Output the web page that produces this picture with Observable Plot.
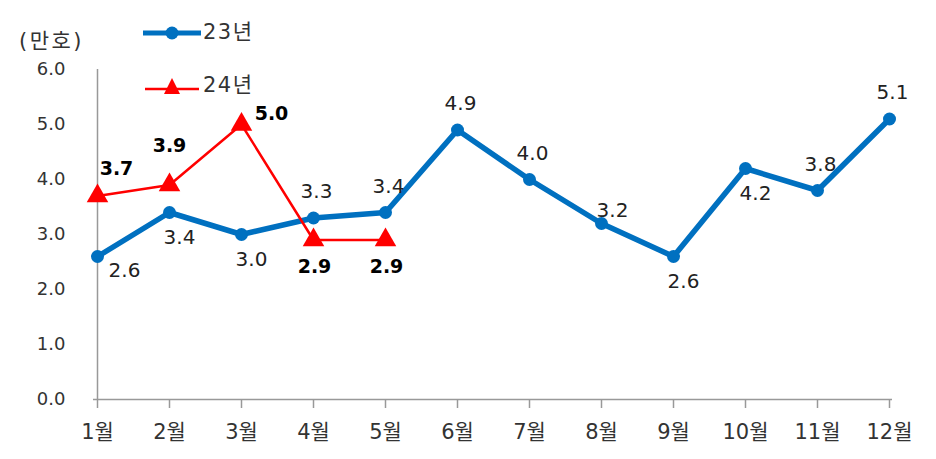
<!DOCTYPE html>
<html><head><meta charset="utf-8">
<script src="https://cdn.jsdelivr.net/npm/d3@7"></script>
<script src="https://cdn.jsdelivr.net/npm/@observablehq/plot@0.6"></script>
<style>
body{margin:0;background:#fff;font-family:"DejaVu Sans","Noto Sans CJK KR",sans-serif;}
#wrap{position:relative;width:936px;height:459px;}
.ov{position:absolute;color:#333;white-space:nowrap;letter-spacing:1.5px;}
</style></head>
<body><div id="wrap"></div>
<script>
const months = ["1월","2월","3월","4월","5월","6월","7월","8월","9월","10월","11월","12월"];
const series23 = [2.6,3.4,3.0,3.3,3.4,4.9,4.0,3.2,2.6,4.2,3.8,5.1];
const series24 = [3.7,3.9,5.0,2.9,2.9];
const yTicks = [0,1,2,3,4,5,6];
const seriesNames = ["23년","24년"];
const unitLabel = "(만호)";
// label placement (which side of point the value label sits)
const place23 = ["belowRight","below","below","above","above","above","above","aboveRight","below","below","above","above"];
const place24 = ["aboveRight","high","right","below","below"];

const blue = "#0070C0", red = "#FF0000";
const rows23 = months.map((m,i)=>({m, v:series23[i], p:place23[i]}));
const rows24 = series24.map((v,i)=>({m:months[i], v, p:place24[i]}));

const off23 = {belowRight:[27,14], below:[10,25], above:[3,-26], aboveRight:[11,-13]};
const off24 = {aboveRight:[19,-27], high:[0,-39], right:[30,-11], below:[1,27]};

const txt = (rows, offs, opts) => Object.entries(offs).map(([k,[dx,dy]]) =>
  Plot.text(rows.filter(r=>r.p===k), {x:"m", y:"v", text:d=>d.v.toFixed(1), dx, dy, ...opts}));

const chart = Plot.plot({
  width: 936, height: 459,
  marginLeft: 93, marginRight: 44, marginTop: 69, marginBottom: 60,
  style: {fontFamily: "'DejaVu Sans','Noto Sans CJK KR',sans-serif", color:"#333", background:"#fff"},
  x: {type:"point", domain: months, padding: 0, inset: 0},
  y: {domain:[0,6], inset: 0},
  marks: [
    Plot.axisY({ticks: yTicks, tickSize:0, tickPadding:28, tickFormat:d3.format(".1f"), fontSize:18, label:null, fill:"#333", style:{letterSpacing:"3px"}}),
    Plot.axisX({tickSize:9, tickPadding:16, fontSize:21, label:null, stroke:"#999", strokeWidth:1.5, fill:"#333", style:{letterSpacing:"2px"}}),
    Plot.ruleY([0], {stroke:"#999", strokeWidth:1.5}),
    Plot.ruleX([months[0]], {y1:0, y2:6, stroke:"#999", strokeWidth:1.5}),
    Plot.line(rows23, {x:"m", y:"v", stroke:blue, strokeWidth:5.5}),
    Plot.dot(rows23, {x:"m", y:"v", fill:blue, r:6.5}),
    Plot.line(rows24, {x:"m", y:"v", stroke:red, strokeWidth:2.5}),
    Plot.dot(rows24, {x:"m", y:"v", fill:red, symbol:"triangle", r:8}),
    ...txt(rows23, off23, {fontSize:20, fill:"#222", style:{letterSpacing:"2px"}}),
    ...txt(rows24, off24, {fontSize:19, fontWeight:"bold", fill:"#000", style:{letterSpacing:"1.5px"}})
  ]
});
const wrap = document.getElementById("wrap");
wrap.appendChild(chart);

function addDiv(html, left, top, size, ls){
  const d = document.createElement("div");
  d.className="ov"; d.innerHTML = html;
  d.style.left = left+"px"; d.style.top = top+"px"; d.style.fontSize = size+"px";
  if (ls) d.style.letterSpacing = ls;
  wrap.appendChild(d);
}
addDiv(unitLabel, 19, 24, 21, "2.5px");
const sym23 = `<svg width="62" height="20" style="vertical-align:middle"><line x1="2" y1="10" x2="60" y2="10" stroke="${blue}" stroke-width="5"/><circle cx="31" cy="10" r="6.5" fill="${blue}"/></svg>`;
const sym24 = `<svg width="62" height="22" style="vertical-align:middle"><line x1="4" y1="14" x2="58" y2="14" stroke="${red}" stroke-width="2.5"/><path d="M31,3 L39,19 L23,19 Z" fill="${red}"/></svg>`;
addDiv(sym23 + seriesNames[0], 141, 15, 21);
addDiv(sym24 + seriesNames[1], 141, 68, 21);
</script></body></html>
